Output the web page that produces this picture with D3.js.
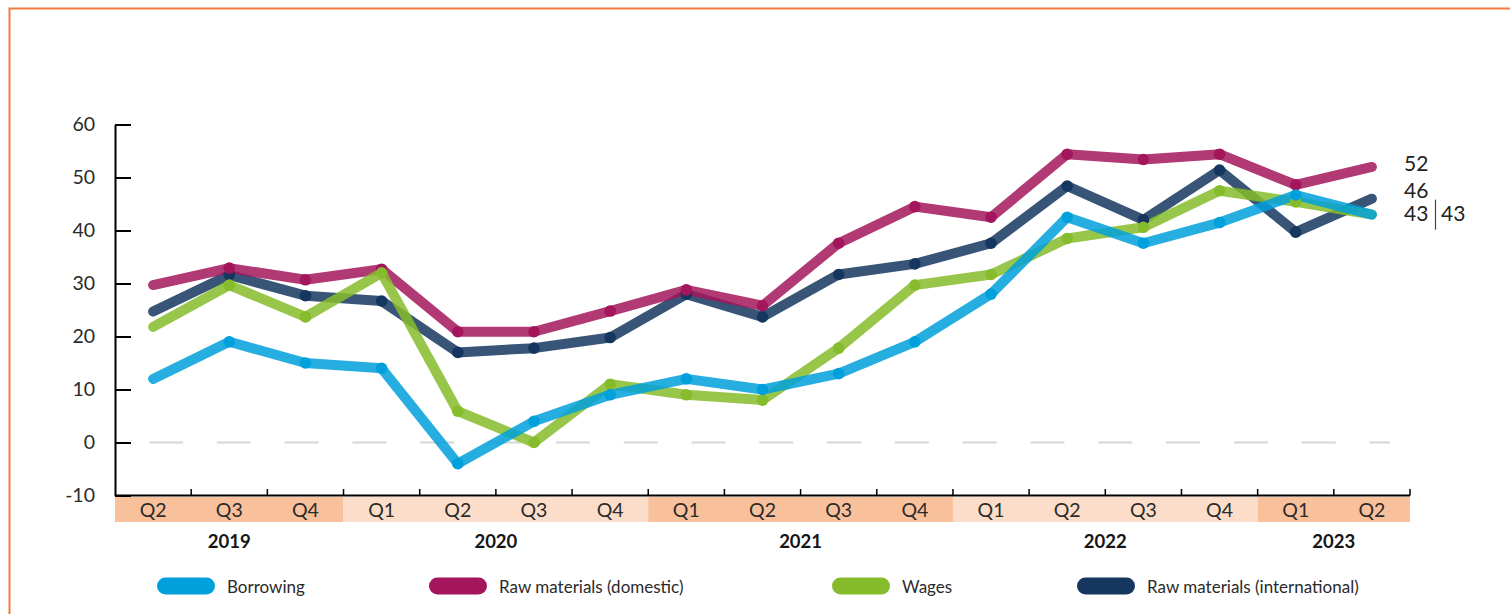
<!DOCTYPE html>
<html>
<head>
<meta charset="utf-8">
<script src="https://cdn.jsdelivr.net/npm/d3@7"></script>
<style>
  html, body { margin: 0; padding: 0; background: #fff; }
  svg { display: block; font-family: Lato, "Open Sans", sans-serif; }
</style>
</head>
<body>
<svg id="chart" width="1510" height="614"></svg>
<script>
// Quarter labels along the x axis and the year each one belongs to
const quarters = ["Q2","Q3","Q4","Q1","Q2","Q3","Q4","Q1","Q2","Q3","Q4","Q1","Q2","Q3","Q4","Q1","Q2"];
const years    = ["2019","2019","2019","2020","2020","2020","2020","2021","2021","2021","2021","2022","2022","2022","2022","2023","2023"];

// Series values per quarter
const borrowing   = [12, 19, 15, 14, -4, 4, 9, 12, 10, 13, 19, 28, 42.5, 37.6, 41.5, 46.7, 43];
const rawDomestic = [29.7, 32.9, 30.7, 32.7, 20.9, 20.9, 24.8, 28.8, 25.8, 37.6, 44.5, 42.5, 54.4, 53.4, 54.4, 48.6, 52];
const wages       = [21.8, 29.7, 23.7, 32, 5.9, 0, 11, 9, 8, 17.8, 29.7, 31.7, 38.5, 40.6, 47.5, 45.4, 43];
const rawIntl     = [24.7, 31.6, 27.7, 26.7, 17, 17.8, 19.8, 28, 23.7, 31.7, 33.7, 37.6, 48.4, 42, 51.4, 39.7, 46];

const yTicks = [-10, 0, 10, 20, 30, 40, 50, 60];

const seriesNames  = ["Borrowing", "Raw materials (domestic)", "Wages", "Raw materials (international)"];
const seriesValues = [borrowing, rawDomestic, wages, rawIntl];
const seriesColors = ["#00A0DC", "#A3165C", "#86BC2B", "#15365E"];

const textColor = "#2a2a2a";
const svg = d3.select("#chart");

// Outer frame
svg.append("rect")
  .attr("x", 9.5).attr("y", 8.5)
  .attr("width", 1520).attr("height", 700)
  .attr("fill", "none")
  .attr("stroke", "#F27B3E")
  .attr("stroke-width", 2);

const idx = d3.range(quarters.length);

const x = d3.scaleBand().domain(idx).range([115, 1410]).paddingInner(0).paddingOuter(0);
const y = d3.scaleLinear().domain([-10, 60]).range([495.5, 124.5]);
const cx = i => x(i) + x.bandwidth() / 2;

// Year bands behind the quarter labels
const yearGroups = d3.groups(idx, i => years[i]);
const bandTop = 497, bandH = 25;
const bandFill = ["#F9C09C", "#FCDDC9"];

const bands = svg.append("g");
yearGroups.forEach(([yr, members], k) => {
  const x0 = x(members[0]);
  const x1 = x(members[members.length - 1]) + x.bandwidth();
  bands.append("rect")
    .attr("x", x0).attr("y", bandTop)
    .attr("width", x1 - x0).attr("height", bandH)
    .attr("fill", bandFill[k % 2]);
  bands.append("text")
    .attr("x", (cx(members[0]) + cx(members[members.length - 1])) / 2)
    .attr("y", 548)
    .attr("text-anchor", "middle")
    .attr("font-size", 18.5)
    .attr("font-weight", 700)
    .attr("fill", "#151515")
    .text(yr);
});

// Quarter labels
svg.append("g").selectAll("text")
  .data(idx).join("text")
  .attr("x", i => cx(i))
  .attr("y", 517)
  .attr("text-anchor", "middle")
  .attr("font-size", 19.5)
  .attr("font-weight", 400)
  .attr("fill", textColor)
  .text(i => quarters[i]);

// Zero reference line
svg.append("line")
  .attr("x1", cx(0) - 4).attr("x2", cx(quarters.length - 1) + 18)
  .attr("y1", y(0)).attr("y2", y(0))
  .attr("stroke", "#d6d6d6")
  .attr("stroke-width", 2)
  .attr("stroke-dasharray", "34 33.8");

// Y axis
const yAxis = d3.axisLeft(y)
  .tickValues(yTicks)
  .tickSizeInner(-16)
  .tickSizeOuter(0)
  .tickPadding(20)
  .tickFormat(d => String(d));

const gy = svg.append("g").attr("transform", "translate(115,0)").call(yAxis);
gy.select(".domain").attr("stroke", "#000").attr("stroke-width", 2);
gy.selectAll(".tick line").attr("stroke", "#000").attr("stroke-width", 2);
gy.selectAll(".tick text")
  .attr("font-size", 19.5)
  .attr("font-weight", 400)
  .attr("fill", textColor)
  .attr("font-family", "Lato, sans-serif");

// X axis line with ticks at quarter boundaries
const gx = svg.append("g");
gx.append("line")
  .attr("x1", 115).attr("x2", 1410)
  .attr("y1", 495.5).attr("y2", 495.5)
  .attr("stroke", "#000").attr("stroke-width", 2);
gx.selectAll("line.tk")
  .data(idx.slice(1).concat([quarters.length]))
  .join("line")
  .attr("class", "tk")
  .attr("x1", i => i < quarters.length ? x(i) : x(i - 1) + x.bandwidth())
  .attr("x2", i => i < quarters.length ? x(i) : x(i - 1) + x.bandwidth())
  .attr("y1", 489).attr("y2", 495.5)
  .attr("stroke", "#000").attr("stroke-width", 1.5);

// Series lines (drawn back to front)
const line = d3.line().x((d, i) => cx(i)).y(d => y(d));
const drawOrder = [3, 1, 2, 0];

const gLines = svg.append("g");
drawOrder.forEach(s => {
  gLines.append("path")
    .datum(seriesValues[s])
    .attr("d", line)
    .attr("fill", "none")
    .attr("stroke", seriesColors[s])
    .attr("stroke-opacity", 0.85)
    .attr("stroke-width", 10)
    .attr("stroke-linecap", "round")
    .attr("stroke-linejoin", "round");
});

// Markers on interior points
const gDots = svg.append("g");
drawOrder.forEach(s => {
  const vals = seriesValues[s];
  gDots.selectAll(null)
    .data(vals.map((v, i) => ({ v, i })).filter(d => d.i > 0 && d.i < vals.length - 1))
    .join("circle")
    .attr("cx", d => cx(d.i))
    .attr("cy", d => y(d.v))
    .attr("r", 5.8)
    .attr("fill", seriesColors[s]);
});

// Latest values at the right end
const last = quarters.length - 1;
const endLabels = svg.append("g")
  .attr("font-size", 21)
  .attr("font-weight", 400)
  .attr("fill", "#222");
endLabels.append("text")
  .attr("x", 1404).attr("y", y(rawDomestic[last]) + 4)
  .text(String(rawDomestic[last]));
endLabels.append("text")
  .attr("x", 1404).attr("y", y(rawIntl[last]) - 1)
  .text(String(rawIntl[last]));
endLabels.append("text")
  .attr("x", 1404).attr("y", y(borrowing[last]) + 6)
  .text(String(borrowing[last]));
endLabels.append("line")
  .attr("x1", 1435.5).attr("x2", 1435.5)
  .attr("y1", y(borrowing[last]) - 15).attr("y2", y(borrowing[last]) + 15)
  .attr("stroke", "#444").attr("stroke-width", 1.2);
endLabels.append("text")
  .attr("x", 1441).attr("y", y(wages[last]) + 6)
  .text(String(wages[last]));

// Legend
const legendX = [157, 429, 832, 1077];
const legend = svg.append("g");
seriesNames.forEach((name, s) => {
  legend.append("rect")
    .attr("x", legendX[s]).attr("y", 577.5)
    .attr("width", 58).attr("height", 17)
    .attr("rx", 8.5)
    .attr("fill", seriesColors[s]);
  legend.append("text")
    .attr("x", legendX[s] + 70).attr("y", 592.5)
    .attr("font-size", 17)
    .attr("font-weight", 400)
    .attr("fill", textColor)
    .text(name);
});
</script>
</body>
</html>
